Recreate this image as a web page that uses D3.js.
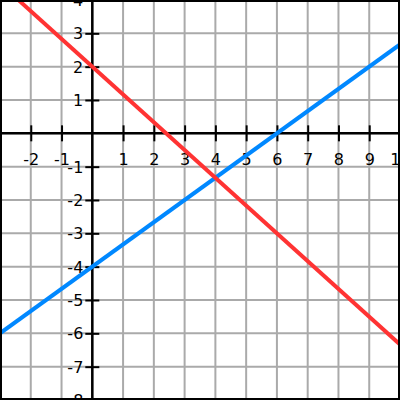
<!DOCTYPE html>
<html><head><meta charset="utf-8">
<script src="https://cdn.jsdelivr.net/npm/d3@7"></script>
<style>html,body{margin:0;padding:0;background:#fff}svg{display:block}</style>
</head><body>
<script>
const xTicks = [-2,-1,1,2,3,4,5,6,7,8,9,10];
const yTicks = [-8,-7,-6,-5,-4,-3,-2,-1,1,2,3,4];
const gridX = [-3,-2,-1,0,1,2,3,4,5,6,7,8,9,10];
const gridY = [-8,-7,-6,-5,-4,-3,-2,-1,0,1,2,3,4];
const redLine = [[-3,4.5],[10,-6.333]];
const blueLine = [[-3,-6],[10,2.667]];

const W=400,H=400;
const x = d3.scaleLinear().domain([-3,10]).range([0,W]);
const y = d3.scaleLinear().domain([-8,4]).range([H,0]);
const svg = d3.select("body").append("svg").attr("width",W).attr("height",H);
svg.append("defs").append("clipPath").attr("id","c").append("rect").attr("width",W).attr("height",H);

svg.append("g").selectAll("line").data(gridX).join("line")
  .attr("x1",d=>x(d)).attr("x2",d=>x(d)).attr("y1",0).attr("y2",H)
  .attr("stroke","#aaa").attr("stroke-width",2);
svg.append("g").selectAll("line").data(gridY).join("line")
  .attr("y1",d=>y(d)).attr("y2",d=>y(d)).attr("x1",0).attr("x2",W)
  .attr("stroke","#aaa").attr("stroke-width",2);

const font = "DejaVu Sans";
const fmt = d => String(d);
const xa = svg.append("g").attr("transform",`translate(0,${y(0)})`)
  .call(d3.axisBottom(x).tickValues(xTicks).tickSize(8).tickPadding(0).tickFormat(fmt));
xa.select(".domain").remove();
xa.selectAll(".tick line").attr("y1",-8).attr("y2",8).attr("stroke","#000").attr("stroke-width",2);
xa.selectAll(".tick text").attr("y",26).attr("dy","0.35em").attr("font-family",font).attr("font-size",16).attr("fill","#000");

const ya = svg.append("g").attr("transform",`translate(${x(0)},0)`)
  .call(d3.axisLeft(y).tickValues(yTicks).tickSize(7).tickPadding(0).tickFormat(fmt));
ya.select(".domain").remove();
ya.selectAll(".tick line").attr("x1",-7).attr("x2",7).attr("stroke","#000").attr("stroke-width",2);
ya.selectAll(".tick text").attr("x",-9).attr("dy","0.35em").attr("font-family",font).attr("font-size",16).attr("fill","#000");

svg.append("line").attr("x1",0).attr("x2",W).attr("y1",y(0)).attr("y2",y(0)).attr("stroke","#000").attr("stroke-width",2.5);
svg.append("line").attr("y1",0).attr("y2",H).attr("x1",x(0)).attr("x2",x(0)).attr("stroke","#000").attr("stroke-width",2.5);

const line = d3.line().x(d=>x(d[0])).y(d=>y(d[1]));
const g = svg.append("g").attr("clip-path","url(#c)");
g.append("path").datum(blueLine).attr("d",line).attr("fill","none").attr("stroke","#0088ff").attr("stroke-width",4);
g.append("path").datum(redLine).attr("d",line).attr("fill","none").attr("stroke","#ff3333").attr("stroke-width",4);

svg.append("rect").attr("x",1).attr("y",1).attr("width",W-2).attr("height",H-2).attr("fill","none").attr("stroke","#000").attr("stroke-width",2);
</script>
</body></html>
